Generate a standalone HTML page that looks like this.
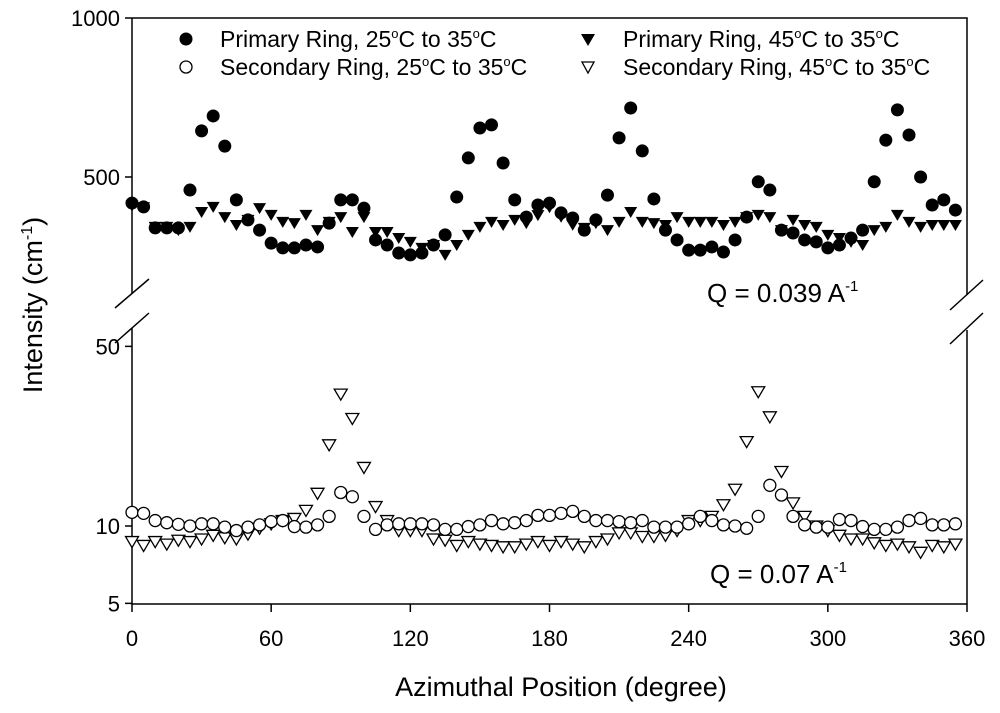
<!DOCTYPE html>
<html><head><meta charset="utf-8"><style>
body{margin:0;background:#fff}
svg{display:block;font-family:"Liberation Sans",Arial,sans-serif}
</style></head><body>
<svg id="chart" width="1000" height="713" viewBox="0 0 1000 713">
<g id="axes"></g>
<g id="marks"></g>
<g id="legend">
  <circle cx="186" cy="39" r="6.5" fill="#000"/>
  <text x="220" y="47" font-size="23">Primary Ring, 25<tspan font-size="13" dy="-9">o</tspan><tspan dy="9">C to 35</tspan><tspan font-size="13" dy="-9">o</tspan><tspan dy="9">C</tspan></text>
  <circle cx="186" cy="67" r="6" fill="#fff" stroke="#000" stroke-width="1.3"/>
  <text x="220" y="75" font-size="23">Secondary Ring, 25<tspan font-size="13" dy="-9">o</tspan><tspan dy="9">C to 35</tspan><tspan font-size="13" dy="-9">o</tspan><tspan dy="9">C</tspan></text>
  <path d="M581,34 L595,34 L588,46 Z" fill="#000"/>
  <text x="623" y="47" font-size="23">Primary Ring, 45<tspan font-size="13" dy="-9">o</tspan><tspan dy="9">C to 35</tspan><tspan font-size="13" dy="-9">o</tspan><tspan dy="9">C</tspan></text>
  <path d="M582,62 L594,62 L588,73 Z" fill="#fff" stroke="#000" stroke-width="1.3"/>
  <text x="623" y="75" font-size="23">Secondary Ring, 45<tspan font-size="13" dy="-9">o</tspan><tspan dy="9">C to 35</tspan><tspan font-size="13" dy="-9">o</tspan><tspan dy="9">C</tspan></text>
</g>
<text x="707" y="302" font-size="26">Q = 0.039 A<tspan font-size="15" dy="-11">-1</tspan></text>
<text x="710" y="583" font-size="26">Q = 0.07 A<tspan font-size="15" dy="-11">-1</tspan></text>
<text x="561" y="696" font-size="27" text-anchor="middle">Azimuthal Position (degree)</text>
<text transform="translate(42,305) rotate(-90)" font-size="27" text-anchor="middle">Intensity (cm<tspan font-size="16" dy="-10">-1</tspan><tspan dy="10">)</tspan></text>
</svg>
<script>
const angles = [];
for (let a = 0; a <= 355; a += 5) angles.push(a);
const primary25 = [418,406,340,340,340,459,645,692,597,428,365,333,292,277,277,286,280,355,428,428,402,302,286,261,255,261,286,318,437,560,654,664,544,428,374,412,418,387,371,333,365,443,623,717,582,431,333,302,270,270,280,264,302,374,485,459,333,324,302,296,277,286,308,333,485,616,711,632,500,412,428,396];
const primary45 = [410,405,343,343,333,343,390,406,374,349,365,402,381,359,355,381,333,359,374,327,374,327,327,308,296,277,286,255,286,318,343,359,349,365,355,380,405,375,350,340,355,333,359,390,359,355,349,374,359,359,359,349,359,374,381,374,333,365,349,343,318,308,296,286,333,343,381,359,343,349,349,349];
const secondary25 = [11.3,11.2,10.5,10.3,10.15,10.0,10.2,10.2,9.9,9.6,9.9,10.1,10.4,10.5,9.95,9.9,10.1,10.9,13.5,13.0,10.9,9.7,10.1,10.2,10.2,10.2,10.1,9.7,9.7,9.95,10.1,10.5,10.2,10.3,10.5,11.0,11.0,11.2,11.4,10.9,10.5,10.5,10.4,10.3,10.5,9.9,9.9,9.9,10.2,10.9,10.5,10.1,10.0,9.8,10.9,14.4,13.2,10.9,10.1,9.9,9.9,10.6,10.5,9.95,9.7,9.7,9.9,10.5,10.7,10.1,10.1,10.2,10.7];
const secondary45 = [8.7,8.4,8.7,8.5,8.8,8.7,8.9,9.2,9.0,8.9,9.3,9.8,10.2,10.5,10.7,11.5,13.4,20.7,32.6,26.2,16.9,11.9,10.5,9.6,9.6,9.6,8.9,8.8,8.4,8.7,8.5,8.4,8.3,8.3,8.5,8.7,8.4,8.7,8.5,8.3,8.7,8.9,9.4,9.4,9.1,9.1,9.2,9.6,10.5,10.5,10.9,12.1,13.9,21.3,33.3,26.6,16.3,12.3,10.9,10.0,9.6,9.2,8.9,8.9,8.6,8.4,8.5,8.3,7.9,8.4,8.3,8.5];
const xTicks = [0,60,120,180,240,300,360];
const topTicks = [500,1000];
const bottomTicks = [5,10,50];

const NS = 'http://www.w3.org/2000/svg';
const X0 = 132, X1 = 967;
const xs = d => X0 + (X1 - X0) * d / 360;
const yTop = v => 177 - (v - 500) * 0.318;
const yBot = v => 526 - 257 * Math.log10(v / 10);
function mk(tag, attrs, parent) {
  const e = document.createElementNS(NS, tag);
  for (const k in attrs) e.setAttribute(k, attrs[k]);
  parent.appendChild(e);
  return e;
}
const axes = document.getElementById('axes');
const marks = document.getElementById('marks');
const st = {stroke:'#000','stroke-width':1.5,fill:'none'};
let l;
l = mk('path', Object.assign({d:`M${X0},18 L${X0},293 M${X0},328 L${X0},604 L${X1},604 L${X1},330 M${X1},295 L${X1},18 L${X0},18`}, st), axes);


l = mk('path', Object.assign({d:`M115,308 L149,279 M115,343 L149,313 M950,310 L983,280 M950,344 L983,313`}, st), axes);


xTicks.forEach(t => {
  const x = xs(t);
  const tk = mk('line', Object.assign({x1:x,x2:x,y1:604,y2:612}, st), axes);
  
  
  const tx = mk('text', {x:x, y:646, 'font-size':22, 'text-anchor':'middle'}, axes);
  tx.textContent = t;
  
  
});
function yTick(y, label) {
  const tk = mk('line', Object.assign({x1:X0-7,x2:X0,y1:y,y2:y}, st), axes);
  
  
  const tx = mk('text', {x:X0-12, y:y+8, 'font-size':22, 'text-anchor':'end'}, axes);
  tx.textContent = label;
  
  
}
topTicks.forEach(t => yTick(yTop(t), t));
bottomTicks.forEach(t => yTick(yBot(t), t));

function circle(x, y, filled, name) {
  const c = mk('circle', {cx:x, cy:y, r: filled ? 6.5 : 6, fill: filled ? '#000' : '#fff', stroke:'#000', 'stroke-width': filled ? 0 : 1.3}, marks);
  
  
}
function tri(x, y, filled, name) {
  const p = mk('path', {d:`M${x-6.5},${y-5} L${x+6.5},${y-5} L${x},${y+6} Z`, fill: filled ? '#000' : '#fff', stroke:'#000', 'stroke-width': filled ? 0 : 1.3}, marks);
  
  
}
angles.forEach((a, i) => tri(xs(a), yTop(primary45[i]), true, 'point-primary-45'));
angles.forEach((a, i) => circle(xs(a), yTop(primary25[i]), true, 'point-primary-25'));
angles.forEach((a, i) => tri(xs(a), yBot(secondary45[i]), false, 'point-secondary-45'));
angles.forEach((a, i) => circle(xs(a), yBot(secondary25[i]), false, 'point-secondary-25'));
</script>
</body></html>
